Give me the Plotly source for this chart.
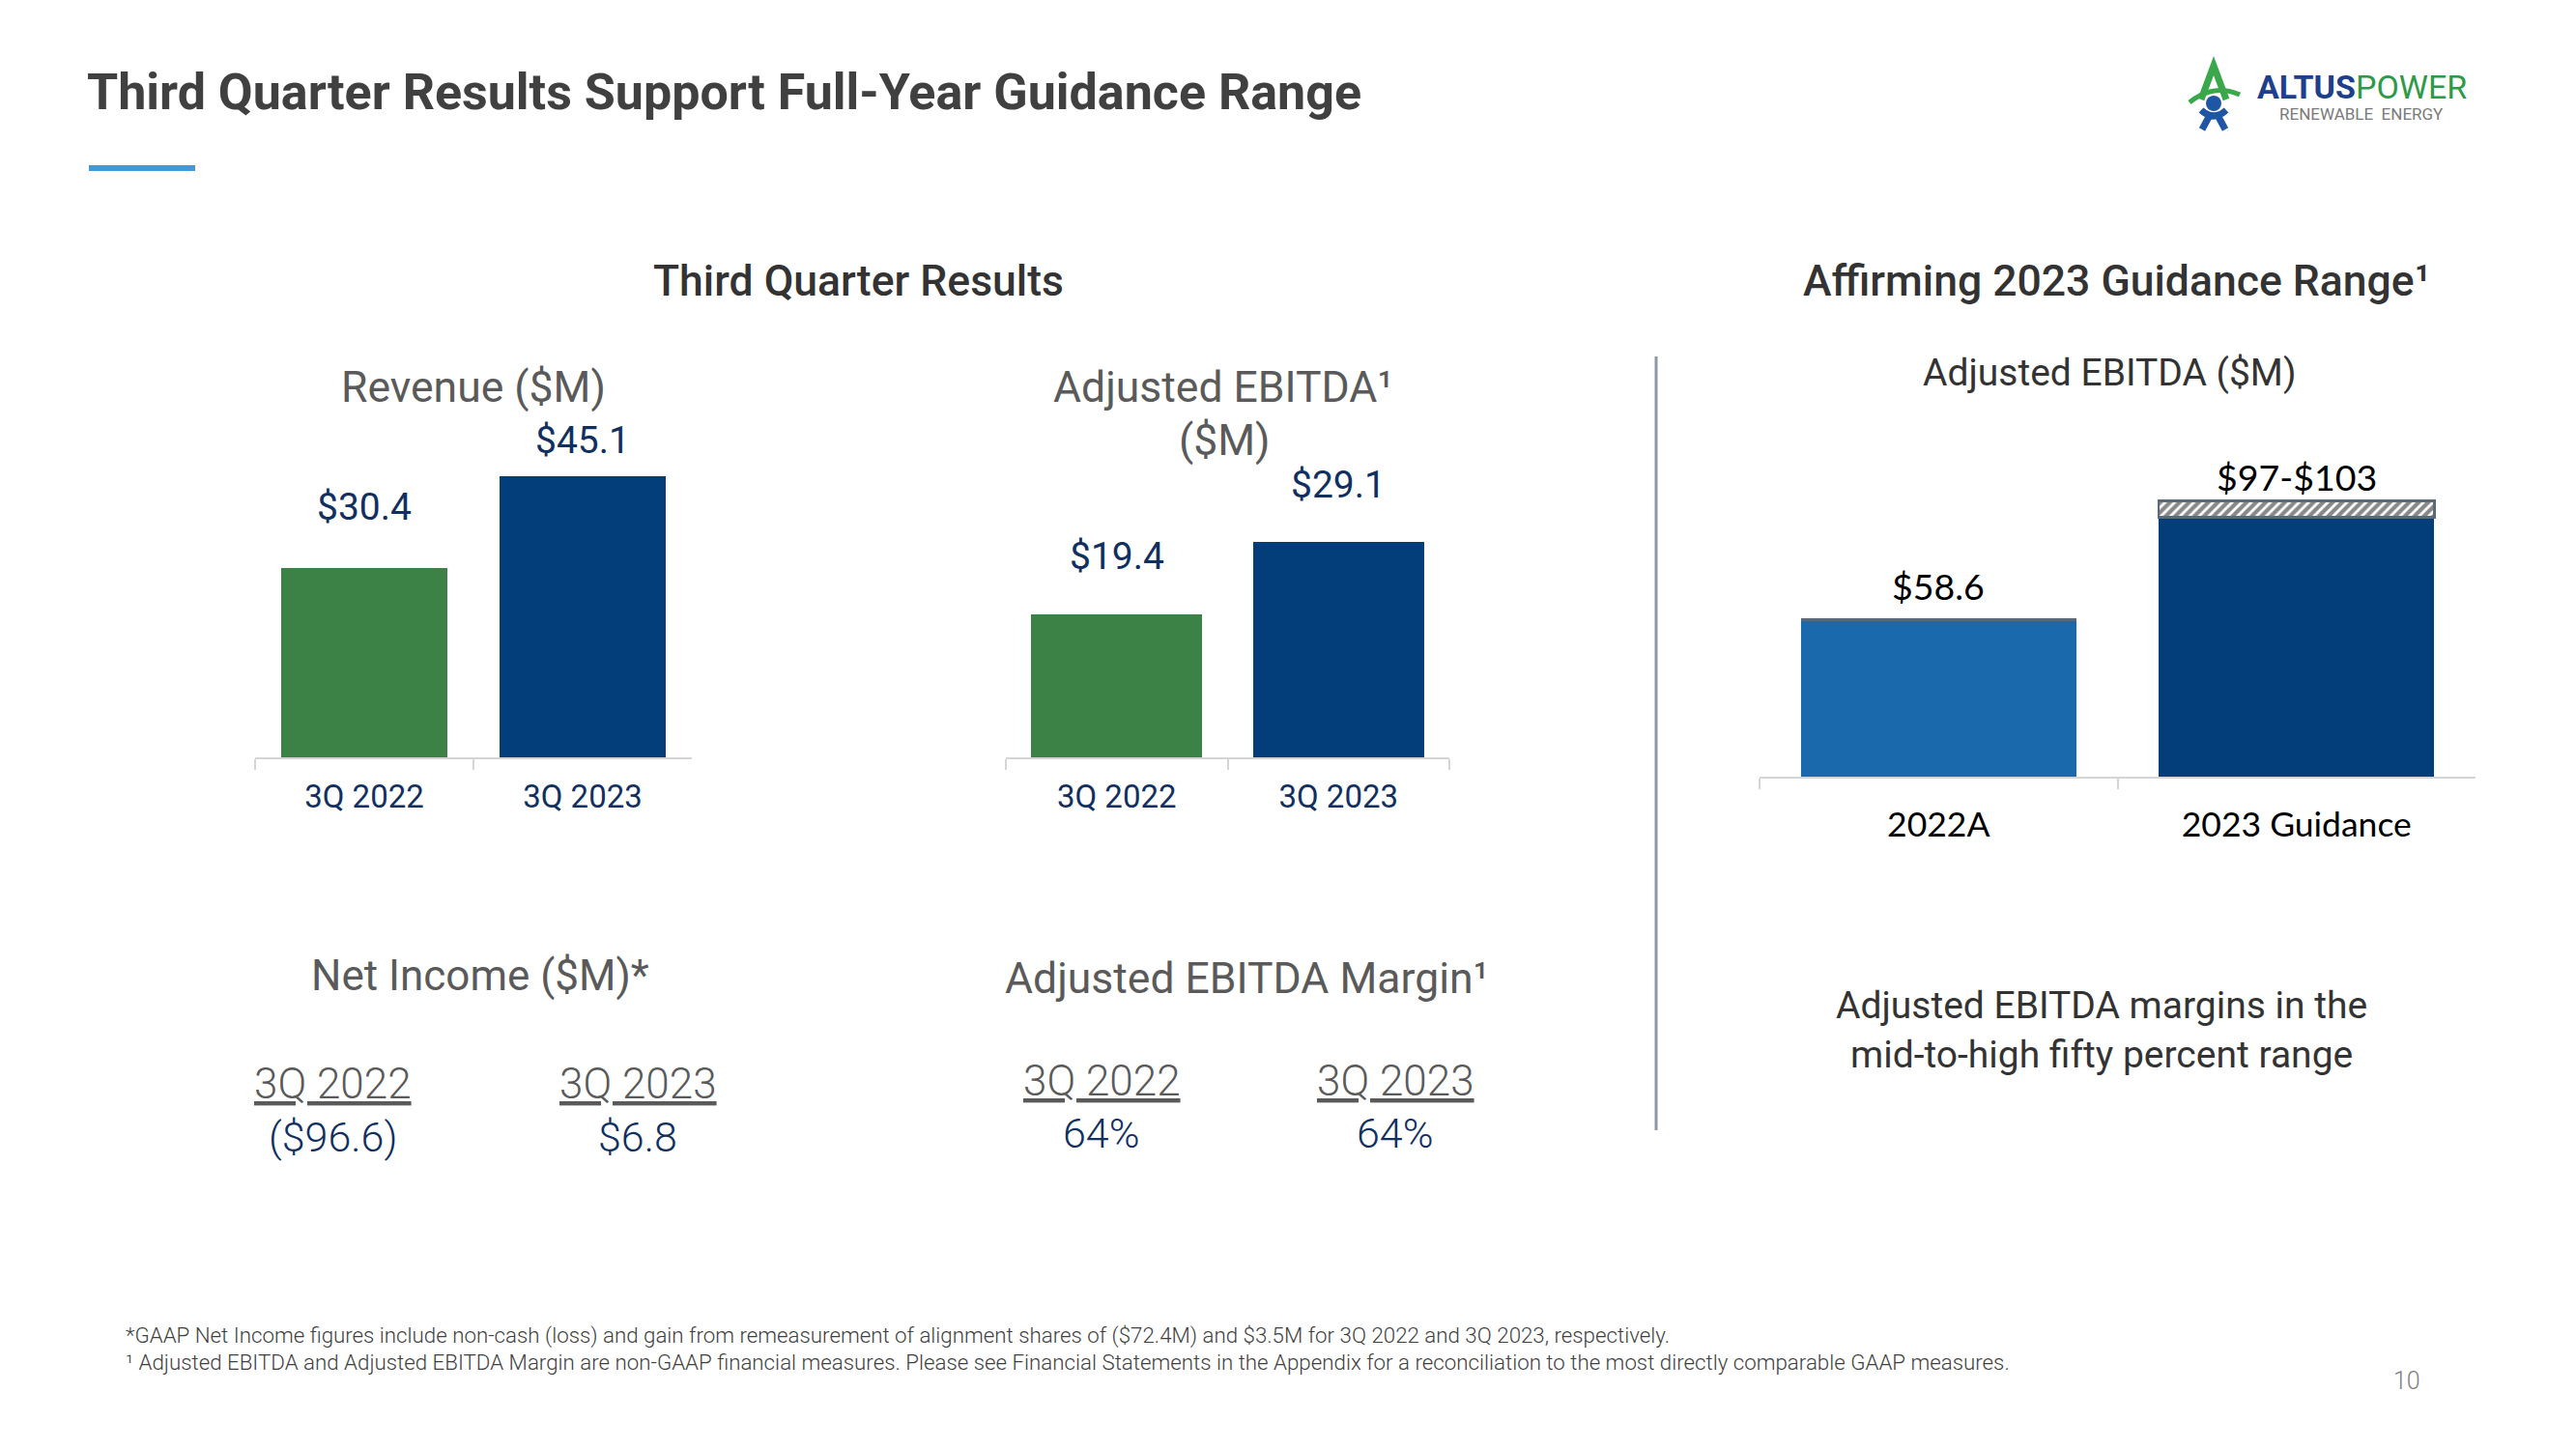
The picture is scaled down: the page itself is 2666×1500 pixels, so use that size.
import plotly.graph_objects as go

# ---------------- data ----------------
quarters = ["3Q 2022", "3Q 2023"]
revenue = [30.4, 45.1]
adj_ebitda_q = [19.4, 29.1]
net_income = [-96.6, 6.8]
ebitda_margin = [64, 64]
annual_cats = ["2022A", "2023 Guidance"]
annual_ebitda = [58.6, 97]
guidance_low, guidance_high = 97, 103
guidance_extra = [0, guidance_high - guidance_low]

# ---------------- styles ----------------
W, H = 2666, 1500
OX, OY = 8, 8          # page body margin compensation
GREEN = "#3C8247"
NAVY = "#033E7B"
LIGHTBLUE = "#1A69AC"
LABEL = "#12305F"
GRAY_T = "#5A5A5A"
DARK = "#333333"
AXIS = "#D5D5D5"
FONT = "Roboto"
CAL = "Lato"


def px(x):
    return (x - OX) / W


def py(y):
    return 1 - (y - OY) / H


fig = go.Figure()

fig.add_trace(go.Bar(x=quarters, y=revenue, marker=dict(color=[GREEN, NAVY], line_width=0),
                     width=0.757, xaxis="x", yaxis="y", hoverinfo="skip"))
fig.add_trace(go.Bar(x=quarters, y=adj_ebitda_q, marker=dict(color=[GREEN, NAVY], line_width=0),
                     width=0.77, xaxis="x2", yaxis="y2", hoverinfo="skip"))
fig.add_trace(go.Bar(x=annual_cats, y=annual_ebitda, marker=dict(color=[LIGHTBLUE, NAVY], line_width=0),
                     width=0.77, xaxis="x3", yaxis="y3", hoverinfo="skip"))
fig.add_trace(go.Bar(x=annual_cats, y=guidance_extra,
                     marker=dict(color="white", line=dict(color="#5B6A78", width=2.5),
                                 pattern=dict(shape="/", fgcolor="#141414", bgcolor="white",
                                              size=7, solidity=0.6)),
                     width=0.77, xaxis="x3", yaxis="y3", hoverinfo="skip"))


def ax_domain(x0, x1):
    return [px(x0), px(x1)]


def ay_domain(base, scale, top_val):
    return [py(base), py(base - scale * top_val)]


xcommon = dict(type="category", showline=True, linecolor=AXIS, linewidth=2, ticks="outside",
               tickson="boundaries", ticklen=11, tickcolor=AXIS, tickwidth=2, showgrid=False,
               zeroline=False, fixedrange=True)
ycommon = dict(visible=False, showgrid=False, zeroline=False, fixedrange=True)

fig.update_layout(
    width=W, height=H, margin=dict(l=0, r=0, t=0, b=0),
    paper_bgcolor="white", plot_bgcolor="white", showlegend=False,
    barmode="stack",
    xaxis=dict(xcommon, domain=ax_domain(264, 716), range=[-0.5, 1.5], anchor="y",
               tickfont=dict(family=FONT, size=33, color=LABEL), ticklabelstandoff=10),
    yaxis=dict(ycommon, domain=ay_domain(784, 6.45, 52), range=[0, 52], anchor="x"),
    xaxis2=dict(xcommon, domain=ax_domain(1041, 1500), range=[-0.5, 1.5], anchor="y2",
                tickfont=dict(family=FONT, size=33, color=LABEL), ticklabelstandoff=10),
    yaxis2=dict(ycommon, domain=ay_domain(784, 7.65, 40), range=[0, 40], anchor="x2"),
    xaxis3=dict(xcommon, domain=ax_domain(1821, 2562), range=[-0.5, 1.5], anchor="y3",
                tickfont=dict(family=CAL, size=35.5, color="black"), ticklabelstandoff=17),
    yaxis3=dict(ycommon, domain=ay_domain(804, 2.77, 110), range=[0, 110], anchor="x3"),
)

ann = []


def text(x, y, s, size, color, family=FONT, weight=None, align="center", xanchor="center", **kw):
    f = dict(family=family, size=size, color=color)
    if weight:
        f["weight"] = weight
    f.update(kw.pop("fontextra", {}))
    ann.append(dict(x=px(x), y=py(y), xref="paper", yref="paper", text=s, showarrow=False,
                    xanchor=xanchor, yanchor="middle", align=align, font=f, **kw))


# value labels on bars
label_shift_1 = [63, 37]
for c, v, s in zip(quarters, revenue, label_shift_1):
    ann.append(dict(x=c, y=v, xref="x", yref="y", text=f"${v:.1f}", showarrow=False,
                    yanchor="middle", yshift=s, font=dict(family=FONT, size=39, color=LABEL)))
label_shift_2 = [60, 59]
for c, v, s in zip(quarters, adj_ebitda_q, label_shift_2):
    ann.append(dict(x=c, y=v, xref="x2", yref="y2", text=f"${v:.1f}", showarrow=False,
                    yanchor="middle", yshift=s, font=dict(family=FONT, size=39, color=LABEL)))
annual_labels = [f"${annual_ebitda[0]:.1f}", f"${guidance_low}-${guidance_high}"]
annual_tops = [annual_ebitda[0], guidance_high]
label_shift_3 = [35, 25]
for c, v, t, s in zip(annual_cats, annual_tops, annual_labels, label_shift_3):
    ann.append(dict(x=c, y=v, xref="x3", yref="y3", text=t, showarrow=False,
                    yanchor="middle", yshift=s, font=dict(family=CAL, size=37.5, color="black")))

# page title
text(88, 95, "Third Quarter Results Support Full-Year Guidance Range", 52, "#404040",
     weight="bold", xanchor="left")

# section headings
text(888, 291, "Third Quarter Results", 44.5, DARK, weight=500)
text(2190, 291, "Affirming 2023 Guidance Range¹", 44.5, DARK, weight=500)

# chart titles
text(490, 401, "Revenue ($M)", 44.5, GRAY_T)
text(1266, 401, "Adjusted EBITDA¹", 44.5, GRAY_T)
text(1267, 456, "($M)", 44.5, GRAY_T)
text(2183, 386, "Adjusted EBITDA ($M)", 39, DARK)

# Net income block
text(497, 1010, "Net Income ($M)*", 44, GRAY_T)
ni_x = [345, 660]
for x, q, v in zip(ni_x, quarters, net_income):
    text(x, 1122, q, 44, GRAY_T, weight=300, fontextra=dict(lineposition="under"))
    s = f"(${abs(v):.1f})" if v < 0 else f"${v:.1f}"
    text(x, 1177, s, 43, LABEL, weight=300)

# Adjusted EBITDA margin block
text(1290, 1013, "Adjusted EBITDA Margin¹", 44.5, GRAY_T)
mg_x = [1140, 1444]
for x, q, v in zip(mg_x, quarters, ebitda_margin):
    text(x, 1119, q, 44, GRAY_T, weight=300, fontextra=dict(lineposition="under"))
    text(x, 1173, f"{v}%", 43, LABEL, weight=300)

# guidance comment
text(2175, 1066, "Adjusted EBITDA margins in the<br>mid-to-high fifty percent range", 39, DARK)

# footnotes
text(128, 1382, "*GAAP Net Income figures include non-cash (loss) and gain from remeasurement of alignment "
     "shares of ($72.4M) and $3.5M for 3Q 2022 and 3Q 2023, respectively.", 22.3, "#3F3F3F",
     weight=300, xanchor="left")
text(128, 1410, "¹ Adjusted EBITDA and Adjusted EBITDA Margin are non-GAAP financial measures. "
     "Please see Financial Statements in the Appendix for a reconciliation to the most directly "
     "comparable GAAP measures.", 22.3, "#3F3F3F", weight=300, xanchor="left")
text(2491, 1429, "10", 25, "#7F7F7F", weight=300)

# logo text
text(2440, 90, "ALTUS", 34, "#1E3F8C", weight="bold", xanchor="right")
text(2436, 90, "POWER", 34, "#2E9A47", xanchor="left")
text(2444, 118, "RENEWABLE  ENERGY", 17, "#7A7A7A")

fig.update_layout(annotations=ann)

shapes = [
    dict(type="rect", xref="paper", yref="paper", x0=px(92), x1=px(202), y0=py(177), y1=py(171),
         fillcolor="#3F9AD7", line_width=0),
    dict(type="line", xref="paper", yref="paper", x0=px(1714), x1=px(1714), y0=py(369), y1=py(1170),
         line=dict(color="#8E99A4", width=3)),
    # logo icon: green A + swoosh
    dict(type="path", xref="paper", yref="paper",
         path=f"M {px(2278)},{py(103)} L {px(2291)},{py(68)} L {px(2304)},{py(103)}",
         line=dict(color="#3AA74A", width=7), fillcolor="rgba(0,0,0,0)"),
    dict(type="path", xref="paper", yref="paper",
         path=f"M {px(2266)},{py(106)} Q {px(2291)},{py(86)} {px(2318)},{py(98)}",
         line=dict(color="#3AA74A", width=5), fillcolor="rgba(0,0,0,0)"),
    # logo icon: blue head and body
    dict(type="circle", xref="paper", yref="paper", x0=px(2283), x1=px(2299), y0=py(99), y1=py(115),
         fillcolor="#1F55A5", line_width=0),
    dict(type="path", xref="paper", yref="paper",
         path=f"M {px(2278)},{py(114)} Q {px(2291)},{py(126)} {px(2304)},{py(114)} "
              f"M {px(2286)},{py(121)} L {px(2279)},{py(134)} M {px(2296)},{py(121)} L {px(2303)},{py(134)}",
         line=dict(color="#1F55A5", width=7), fillcolor="rgba(0,0,0,0)"),
]
fig.update_layout(shapes=shapes)

fig.write_html("out.html")
